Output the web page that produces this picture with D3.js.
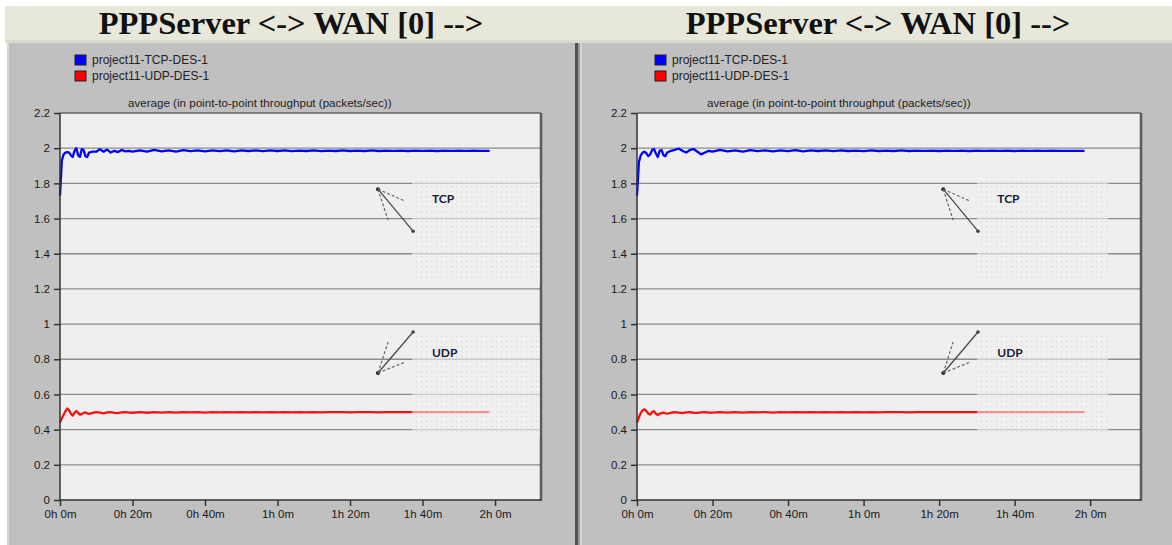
<!DOCTYPE html>
<html><head><meta charset="utf-8">
<script src="https://cdn.jsdelivr.net/npm/d3@7/dist/d3.min.js"></script>
<style>body{margin:0;background:#fff}svg{display:block}</style>
</head><body>
<svg id="c" width="1172" height="545"></svg>
<script>
// ---------- DATA ----------
const titleText = "PPPServer <-> WAN [0] -->";
const subtitleText = "average (in point-to-point throughput (packets/sec))";
const seriesNames = ["project11-TCP-DES-1", "project11-UDP-DES-1"];
const yTicks = [0, 0.2, 0.4, 0.6, 0.8, 1, 1.2, 1.4, 1.6, 1.8, 2, 2.2];
const yTickLabels = ["0", "0.2", "0.4", "0.6", "0.8", "1", "1.2", "1.4", "1.6", "1.8", "2", "2.2"];
const xTicks = [0, 20, 40, 60, 80, 100, 120]; // minutes
const xTickLabels = ["0h 0m", "0h 20m", "0h 40m", "1h 0m", "1h 20m", "1h 40m", "2h 0m"];

// sample times (minutes) shared by all series
const times = [0,0.5,1,1.5,2,2.5,3,3.5,4,4.5,5,5.5,6,6.5,7,7.5,8,
  9,10,11,12,13,14,15,16,17,18,19,20,
  22,24,26,28,30,32,34,36,38,40,42,44,46,48,50,52,54,56,58,60,62,64,66,68,70,
  72,74,76,78,80,82,84,86,88,90,92,94,96,98,100,102,104,106,108,110,112,114,116,118.5];

// left chart
const tcpLeft = [1.73,1.93,1.965,1.975,1.978,1.975,1.96,1.95,1.985,2.0,1.96,1.95,1.995,1.99,1.955,1.95,1.975,
  1.98,1.98,1.995,1.98,1.992,1.975,1.985,1.978,1.99,1.982,1.985,1.98,
  1.988,1.980,1.990,1.982,1.988,1.981,1.989,1.983,1.988,1.982,1.987,1.983,1.988,1.982,1.987,1.984,1.987,1.983,1.988,1.984,1.987,1.983,1.986,1.984,1.987,
  1.983,1.986,1.984,1.987,1.984,1.986,1.984,1.987,1.984,1.986,1.985,1.986,1.984,1.986,1.985,1.986,1.984,1.986,1.985,1.986,1.985,1.986,1.985,1.985];
const udpLeft = [0.44,0.465,0.485,0.505,0.52,0.51,0.49,0.48,0.495,0.505,0.495,0.485,0.488,0.495,0.498,0.492,0.49,
  0.495,0.5,0.497,0.493,0.498,0.5,0.495,0.494,0.498,0.5,0.497,0.496,
  0.499,0.496,0.499,0.497,0.5,0.497,0.499,0.498,0.5,0.497,0.499,0.498,0.499,0.498,0.5,0.498,0.499,0.498,0.5,0.498,0.499,0.498,0.499,0.498,0.499,
  0.498,0.499,0.499,0.499,0.498,0.499,0.499,0.499,0.498,0.499,0.499,0.499,0.499,0.499,0.499,0.499,0.499,0.499,0.499,0.499,0.499,0.499,0.499,0.499];

// right chart
const tcpRight = [1.73,1.92,1.96,1.975,1.98,1.97,1.955,1.965,1.99,1.995,1.97,1.95,1.985,1.99,1.96,1.955,1.975,
  1.985,1.99,1.998,1.985,1.975,1.99,1.995,1.98,1.965,1.975,1.985,1.98,
  1.99,1.982,1.988,1.980,1.989,1.983,1.988,1.982,1.987,1.983,1.989,1.982,1.987,1.984,1.988,1.983,1.987,1.984,1.986,1.983,1.987,1.984,1.986,1.984,1.987,
  1.984,1.986,1.985,1.986,1.984,1.986,1.985,1.986,1.984,1.986,1.985,1.986,1.985,1.986,1.984,1.986,1.985,1.986,1.985,1.986,1.985,1.985,1.985,1.985];
const udpRight = [0.44,0.47,0.495,0.51,0.515,0.505,0.49,0.485,0.5,0.505,0.49,0.483,0.49,0.495,0.497,0.493,0.491,
  0.496,0.5,0.497,0.494,0.498,0.5,0.496,0.495,0.498,0.5,0.497,0.497,
  0.499,0.497,0.5,0.497,0.499,0.498,0.5,0.497,0.499,0.498,0.499,0.498,0.5,0.498,0.499,0.498,0.499,0.498,0.5,0.498,0.499,0.498,0.499,0.499,0.499,
  0.498,0.499,0.499,0.499,0.499,0.499,0.499,0.499,0.499,0.499,0.499,0.499,0.499,0.499,0.499,0.499,0.499,0.499,0.499,0.499,0.499,0.499,0.499,0.499];

// annotation anchors in data space (minutes, value) per chart
const annoLeft  = {vertexT: 87.7, tipT: 97.4, dashAT: 95.2, dashBT: 90.5, textT: 102.6, boxT0: 97.1, boxT1: 132.4};
const annoRight = {vertexT: 81.1, tipT: 90.3, dashAT: 88.2, dashBT: 83.7, textT: 95.4, boxT0: 90.1, boxT1: 124.8};
const annoTcp = {vertexV: 1.767, tipV: 1.528, dashAV: 1.699, dashBV: 1.591, textV: 1.71, boxV0: 1.83, boxV1: 1.24, label: "TCP"};
const annoUdp = {vertexV: 0.722, tipV: 0.955, dashAV: 0.784, dashBV: 0.898, textV: 0.835, boxV0: 0.955, boxV1: 0.37, label: "UDP"};

// ---------- DRAW ----------
const svg = d3.select("#c");
const defs = svg.append("defs");
const pat = defs.append("pattern").attr("id","dots").attr("width",5).attr("height",5)
  .attr("patternUnits","userSpaceOnUse");
pat.append("rect").attr("width",5).attr("height",5).attr("fill","#f1f1f1");
pat.append("rect").attr("x",1).attr("y",1).attr("width",1.4).attr("height",1.4).attr("fill","#d0d0d0");

svg.append("rect").attr("width",1172).attr("height",545).attr("fill","#ffffff");
// title band
svg.append("rect").attr("x",5).attr("y",6).attr("width",1167).attr("height",35).attr("fill","#e8e8da");
svg.append("rect").attr("x",5).attr("y",40).attr("width",1167).attr("height",3).attr("fill","#dadad0");
// gray panel
svg.append("rect").attr("x",7).attr("y",43).attr("width",1165).attr("height",502).attr("fill","#c0c0c0");
svg.append("rect").attr("x",7).attr("y",43).attr("width",2).attr("height",502).attr("fill","#d6d6d6");
// separator
svg.append("rect").attr("x",575).attr("y",43).attr("width",3).attr("height",502).attr("fill","#505050");
svg.append("rect").attr("x",578).attr("y",43).attr("width",2).attr("height",502).attr("fill","#9a9a9a");
svg.append("rect").attr("x",580).attr("y",43).attr("width",2).attr("height",502).attr("fill","#d8d8d8");

function drawPanel(cfg) {
  const g = svg.append("g");
  const x = d3.scaleLinear().domain([0, cfg.tMax]).range([cfg.left, cfg.right]);
  const y = d3.scaleLinear().domain([0, 2.2]).range([500, 113]);

  // title
  g.append("text").attr("x", cfg.titleX).attr("y", 34).attr("text-anchor","middle")
    .attr("font-family","'Liberation Serif', 'DejaVu Serif', serif").attr("font-weight","bold")
    .attr("font-size",32.5).attr("fill","#111").text(titleText);

  // legend
  const colors = ["#0000ff", "#ff0000"];
  seriesNames.forEach((n,i) => {
    const cy = 60 + i*16;
    g.append("rect").attr("x", cfg.legendX).attr("y", cy-5).attr("width",11).attr("height",10)
      .attr("fill", colors[i]).attr("stroke","#222").attr("stroke-width",1);
    g.append("text").attr("x", cfg.legendX + 17).attr("y", cy+4)
      .attr("font-family","'Liberation Sans', Arial, sans-serif").attr("font-size",12)
      .attr("fill","#222").text(n);
  });

  // subtitle
  g.append("text").attr("x", cfg.subX).attr("y", 107)
    .attr("font-family","'Liberation Sans', Arial, sans-serif").attr("font-size",11.6)
    .attr("fill","#222").text(subtitleText);

  // plot bg
  g.append("rect").attr("x", cfg.left).attr("y", y(2.2)).attr("width", cfg.right - cfg.left)
    .attr("height", y(0) - y(2.2)).attr("fill","#efefef");

  // grid
  g.append("g").selectAll("line").data(yTicks.slice(1, -1)).join("line")
    .attr("x1", cfg.left).attr("x2", cfg.right).attr("y1", d => y(d)).attr("y2", d => y(d))
    .attr("stroke","#8c8c8c").attr("stroke-width",1.3);

  // lines
  const line = d3.line().x((d,i) => x(times[i])).y(d => y(d));
  g.append("path").datum(cfg.tcp).attr("d", line).attr("fill","none")
    .attr("stroke","#0000ff").attr("stroke-width",2.3).attr("stroke-linejoin","round");
  g.append("path").datum(cfg.udp).attr("d", line).attr("fill","none")
    .attr("stroke","#ff1010").attr("stroke-width",2.3).attr("stroke-linejoin","round");

  // frame
  g.append("line").attr("x1", cfg.left).attr("x2", cfg.right+1).attr("y1", y(2.2)).attr("y2", y(2.2))
    .attr("stroke","#666").attr("stroke-width",1.5);
  g.append("line").attr("x1", cfg.right+1).attr("x2", cfg.right+1).attr("y1", y(2.2)).attr("y2", y(0)+1)
    .attr("stroke","#5a5a5a").attr("stroke-width",2.5);

  // axes
  const fontFam = "'Liberation Sans', Arial, sans-serif";
  const ya = g.append("g").attr("transform", `translate(${cfg.left},0)`)
    .call(d3.axisLeft(y).tickValues(yTicks).tickFormat((d,i) => yTickLabels[i]).tickSize(6).tickPadding(4));
  const xa = g.append("g").attr("transform", `translate(0,${y(0)})`)
    .call(d3.axisBottom(x).tickValues(xTicks).tickFormat((d,i) => xTickLabels[i]).tickSize(6).tickPadding(4));
  [ya, xa].forEach(a => {
    a.select(".domain").attr("stroke","#333").attr("stroke-width",1.5);
    a.selectAll(".tick line").attr("stroke","#333").attr("stroke-width",1.5);
    a.selectAll("text").attr("font-family", fontFam).attr("font-size",11.5).attr("fill","#1a1a1a");
  });
  ya.select(".domain").attr("d", `M0,${y(2.2)}V${y(0)}`);
  xa.select(".domain").attr("d", `M${cfg.left},0H${cfg.right+1}`);

  // annotations
  [annoTcp, annoUdp].forEach(a => {
    const A = cfg.anno;
    g.append("rect").attr("x", x(A.boxT0)).attr("y", y(a.boxV0))
      .attr("width", x(A.boxT1) - x(A.boxT0)).attr("height", y(a.boxV1) - y(a.boxV0))
      .attr("fill","url(#dots)").attr("opacity",0.6);
    const vx = x(A.vertexT), vy = y(a.vertexV);
    g.append("line").attr("x1", vx).attr("y1", vy).attr("x2", x(A.tipT)).attr("y2", y(a.tipV))
      .attr("stroke","#444").attr("stroke-width",1.2);
    g.append("circle").attr("cx", x(A.tipT)).attr("cy", y(a.tipV)).attr("r",1.8).attr("fill","#444");
    g.append("circle").attr("cx", vx).attr("cy", vy).attr("r",2).attr("fill","#222");
    [[A.dashAT, a.dashAV], [A.dashBT, a.dashBV]].forEach(p => {
      g.append("line").attr("x1", vx).attr("y1", vy).attr("x2", x(p[0])).attr("y2", y(p[1]))
        .attr("stroke","#666").attr("stroke-width",1.2).attr("stroke-dasharray","3,2");
    });
    g.append("text").attr("x", x(A.textT)).attr("y", y(a.textV) + 4)
      .attr("font-family","Lato, 'Open Sans', sans-serif").attr("font-weight","bold")
      .attr("font-size",12).attr("fill","#1a1a3a").text(a.label);
  });
}

drawPanel({left: 60, right: 540, tMax: 132.4, titleX: 291, legendX: 75, subX: 128,
  tcp: tcpLeft, udp: udpLeft, anno: annoLeft});
drawPanel({left: 637, right: 1140, tMax: 133.2, titleX: 878, legendX: 655, subX: 707,
  tcp: tcpRight, udp: udpRight, anno: annoRight});
</script>
</body></html>
